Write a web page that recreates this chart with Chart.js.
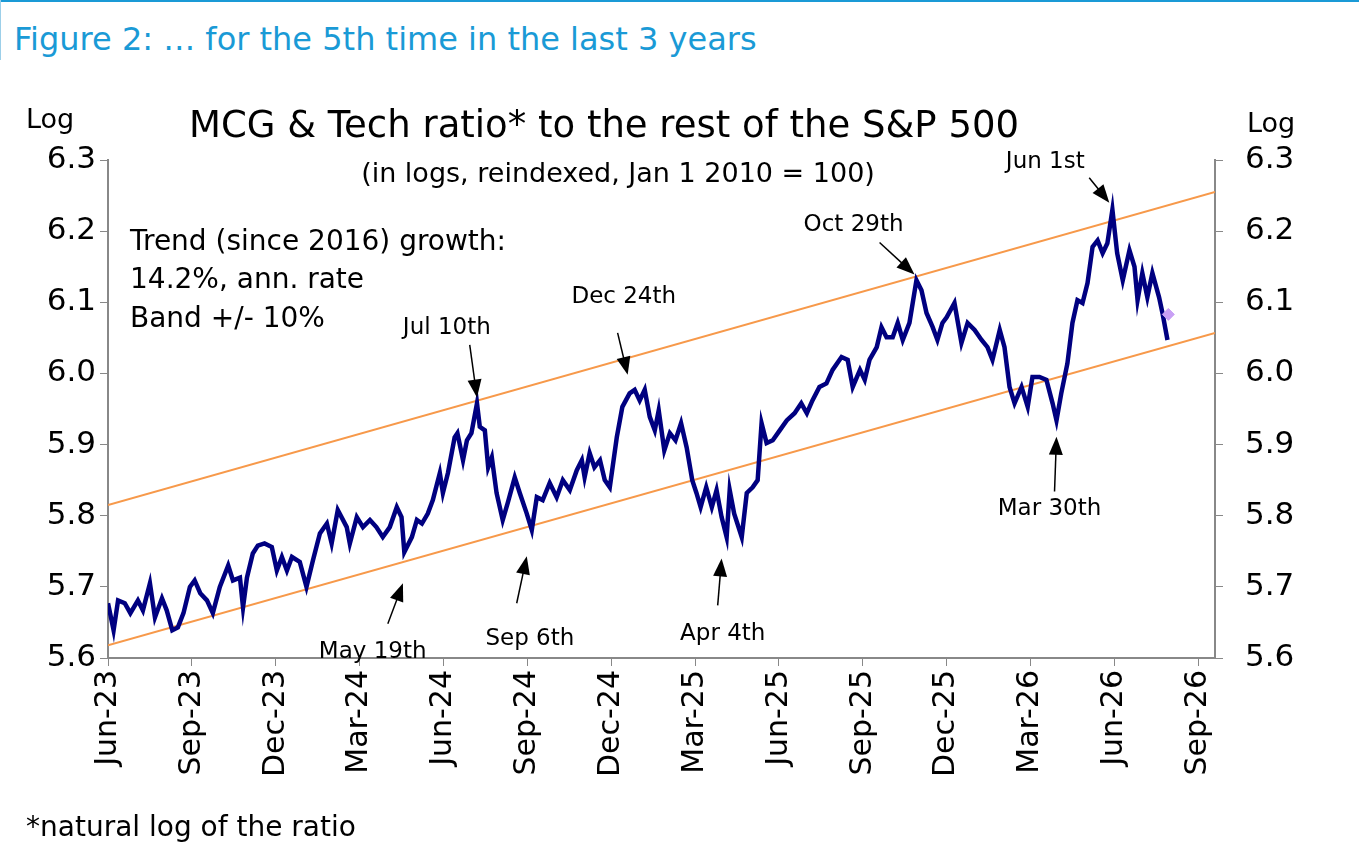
<!DOCTYPE html>
<html>
<head>
<meta charset="utf-8">
<script src="https://cdn.jsdelivr.net/npm/chart.js@4.4.0/dist/chart.umd.min.js"></script>
<style>
  body { margin: 0; background: #fff; font-family: "DejaVu Sans", sans-serif; }
  #wrap { position: relative; width: 1359px; height: 866px; }
  #topline { position: absolute; left: 0; top: 0; width: 1359px; height: 2px; background: #1a9ad6; }
  #leftline { position: absolute; left: 0; top: 0; width: 1px; height: 60px; background: #9ccfe9; }
  #fig { position: absolute; left: 14px; top: 20px; font-size: 32px; color: #1a9ad6; }
  #foot { position: absolute; left: 26px; top: 810px; font-size: 28px; color: #000; }
  canvas { position: absolute; left: 0; top: 0; }
</style>
</head>
<body>
<div id="wrap">
  <div id="topline"></div><div id="leftline"></div>
  <div id="fig">Figure 2: … for the 5th time in the last 3 years</div>
  <canvas id="chart" width="1359" height="866"></canvas>
  <div id="foot">*natural log of the ratio</div>
</div>
<script>
// x = months since Jun-23
const tickLabels = ['Jun-23','Sep-23','Dec-23','Mar-24','Jun-24','Sep-24','Dec-24','Mar-25','Jun-25','Sep-25','Dec-25','Mar-26','Jun-26','Sep-26'];
const months = [0,0.2,0.36,0.6,0.8,1.07,1.25,1.5,1.68,1.93,2.1,2.3,2.5,2.7,2.93,3.1,3.3,3.54,3.75,4.0,4.3,4.47,4.72,4.83,4.97,5.18,5.36,5.6,5.86,6.04,6.22,6.4,6.58,6.86,7.1,7.33,7.58,7.83,8.0,8.22,8.54,8.65,8.9,9.12,9.37,9.6,9.83,10.08,10.33,10.5,10.6,10.87,11.05,11.23,11.44,11.62,11.87,11.98,12.16,12.4,12.5,12.7,12.84,13.0,13.2,13.3,13.48,13.6,13.73,13.9,14.12,14.3,14.55,14.73,14.98,15.16,15.34,15.55,15.8,16.05,16.27,16.52,16.77,16.95,17.05,17.23,17.4,17.6,17.77,17.95,18.2,18.4,18.66,18.84,19.02,19.2,19.38,19.56,19.7,19.9,20.1,20.3,20.5,20.7,20.9,21.05,21.2,21.4,21.6,21.77,21.95,22.13,22.24,22.4,22.67,22.85,23.06,23.24,23.38,23.56,23.78,24.03,24.28,24.56,24.8,25.0,25.2,25.45,25.7,25.92,26.24,26.46,26.64,26.9,27.07,27.24,27.5,27.67,27.85,28.07,28.25,28.43,28.67,28.92,29.1,29.28,29.5,29.67,29.85,30.0,30.28,30.53,30.75,31.0,31.25,31.46,31.64,31.9,32.07,32.25,32.43,32.68,32.9,33.07,33.32,33.57,33.79,33.93,34.1,34.32,34.5,34.68,34.86,35.04,35.22,35.4,35.58,35.75,35.93,36.1,36.3,36.54,36.72,36.83,37.0,37.18,37.36,37.6,37.72,37.9];
const ratio = [5.677,5.639,5.681,5.677,5.663,5.681,5.667,5.705,5.657,5.684,5.667,5.639,5.643,5.663,5.700,5.709,5.691,5.681,5.663,5.700,5.730,5.709,5.713,5.671,5.713,5.747,5.758,5.761,5.756,5.723,5.742,5.723,5.742,5.735,5.700,5.737,5.775,5.789,5.761,5.808,5.784,5.761,5.798,5.784,5.794,5.784,5.770,5.784,5.812,5.798,5.749,5.770,5.794,5.789,5.803,5.822,5.860,5.832,5.860,5.910,5.916,5.878,5.906,5.916,5.958,5.925,5.920,5.868,5.882,5.832,5.794,5.818,5.854,5.832,5.803,5.780,5.826,5.822,5.846,5.826,5.850,5.836,5.864,5.878,5.854,5.888,5.868,5.878,5.850,5.840,5.910,5.953,5.972,5.977,5.962,5.977,5.939,5.920,5.948,5.892,5.916,5.906,5.930,5.896,5.850,5.832,5.812,5.840,5.812,5.836,5.798,5.770,5.836,5.803,5.770,5.832,5.840,5.850,5.930,5.902,5.906,5.920,5.934,5.944,5.958,5.944,5.962,5.981,5.986,6.005,6.023,6.019,5.981,6.005,5.991,6.019,6.037,6.065,6.051,6.051,6.071,6.047,6.071,6.131,6.117,6.085,6.065,6.047,6.071,6.079,6.099,6.043,6.071,6.061,6.047,6.037,6.019,6.061,6.037,5.981,5.958,5.981,5.953,5.995,5.995,5.991,5.958,5.934,5.972,6.014,6.071,6.103,6.099,6.127,6.178,6.187,6.169,6.183,6.230,6.169,6.131,6.173,6.150,6.103,6.141,6.107,6.141,6.107,6.085,6.047];
const latest = { x: 37.93, y: 6.083 };
const bandX = [0, 39.6];
const upperBand = [5.815, 6.255];
const lowerBand = [5.618, 6.057];

// annotations: text position and arrow (from -> tip), in data units
const notes = [
  { text: 'Jul 10th',  tx: 12.12, ty: 6.064, ax: 12.94, ay: 6.040, bx: 13.20, by: 5.966 },
  { text: 'Dec 24th',  tx: 18.45, ty: 6.108, ax: 18.23, ay: 6.057, bx: 18.59, by: 5.998 },
  { text: 'Oct 29th',  tx: 26.67, ty: 6.209, ax: 27.60, ay: 6.184, bx: 28.85, by: 6.139 },
  { text: 'Jun 1st',   tx: 33.53, ty: 6.297, ax: 35.10, ay: 6.275, bx: 35.82, by: 6.240 },
  { text: 'May 19th',  tx: 9.47,  ty: 5.609, ax: 10.01, ay: 5.648, bx: 10.55, by: 5.705 },
  { text: 'Sep 6th',   tx: 15.09, ty: 5.626, ax: 14.62, ay: 5.677, bx: 14.98, by: 5.743 },
  { text: 'Apr 4th',   tx: 21.99, ty: 5.633, ax: 21.81, ay: 5.674, bx: 21.95, by: 5.740 },
  { text: 'Mar 30th',  tx: 33.68, ty: 5.810, ax: 33.86, ay: 5.834, bx: 33.93, by: 5.911 }
];

const FONT = '"DejaVu Sans", sans-serif';

// draws titles, trend text, Log labels and arrow annotations
const decorations = {
  id: 'decorations',
  afterDatasetsDraw(chart) {
    const { ctx, scales } = chart;
    const x = scales.x, y = scales.y;
    ctx.save();
    ctx.fillStyle = '#000';
    ctx.textBaseline = 'middle';
    ctx.textAlign = 'center';
    ctx.font = '37px ' + FONT;
    ctx.fillText('MCG & Tech ratio* to the rest of the S&P 500', 604, 127);
    ctx.font = '27px ' + FONT;
    ctx.fillText('(in logs, reindexed, Jan 1 2010 = 100)', 618, 175);
    ctx.fillText('Log', 50, 121);
    ctx.fillText('Log', 1271, 125);
    ctx.font = '28px ' + FONT;
    ctx.textAlign = 'left';
    ctx.fillText('Trend (since 2016) growth:', 130, 243);
    ctx.fillText('14.2%, ann. rate', 130, 281);
    ctx.fillText('Band +/- 10%', 130, 320);

    ctx.font = '23px ' + FONT;
    ctx.textAlign = 'center';
    notes.forEach(n => {
      ctx.fillText(n.text, x.getPixelForValue(n.tx), y.getPixelForValue(n.ty));
      const x1 = x.getPixelForValue(n.ax), y1 = y.getPixelForValue(n.ay);
      const x2 = x.getPixelForValue(n.bx), y2 = y.getPixelForValue(n.by);
      const ang = Math.atan2(y2 - y1, x2 - x1);
      ctx.strokeStyle = '#000';
      ctx.lineWidth = 1.5;
      ctx.beginPath();
      ctx.moveTo(x1, y1);
      ctx.lineTo(x2 - 14 * Math.cos(ang), y2 - 14 * Math.sin(ang));
      ctx.stroke();
      ctx.beginPath();
      ctx.moveTo(x2, y2);
      ctx.lineTo(x2 - 18 * Math.cos(ang) + 7 * Math.sin(ang), y2 - 18 * Math.sin(ang) - 7 * Math.cos(ang));
      ctx.lineTo(x2 - 18 * Math.cos(ang) - 7 * Math.sin(ang), y2 - 18 * Math.sin(ang) + 7 * Math.cos(ang));
      ctx.closePath();
      ctx.fill();
    });
    ctx.restore();
  }
};

const ratioPoints = months.map((m, i) => ({ x: m, y: ratio[i] }));
const upperPoints = bandX.map((m, i) => ({ x: m, y: upperBand[i] }));
const lowerPoints = bandX.map((m, i) => ({ x: m, y: lowerBand[i] }));

const yTicks = {
  min: 5.6, max: 6.3,
  ticks: { stepSize: 0.1, color: '#000', font: { size: 31, family: FONT }, padding: 4, callback: v => v.toFixed(1) },
  grid: { drawOnChartArea: false, color: '#888', tickLength: 8 },
  border: { color: '#888', width: 2 }
};

new Chart(document.getElementById('chart'), {
  type: 'line',
  data: {
    datasets: [
      { data: upperPoints, borderColor: '#f7994a', borderWidth: 2, pointRadius: 0, order: 2 },
      { data: lowerPoints, borderColor: '#f7994a', borderWidth: 2, pointRadius: 0, order: 2 },
      { data: ratioPoints, borderColor: '#000080', borderWidth: 4.5, pointRadius: 0, tension: 0, order: 1 },
      { data: [latest], borderColor: '#c9a0f5', backgroundColor: '#c9a0f5', pointStyle: 'rectRot', pointRadius: 6, showLine: false, order: 0 }
    ]
  },
  options: {
    responsive: false,
    animation: false,
    layout: { padding: { top: 160, left: 0, right: 0, bottom: 0 } },
    plugins: { legend: { display: false }, tooltip: { enabled: false } },
    scales: {
      x: {
        type: 'linear', min: 0, max: 39.6,
        afterBuildTicks: s => { s.ticks = tickLabels.map((_, i) => ({ value: i * 3 })); },
        afterFit: s => { s.height = 208; },
        ticks: {
          color: '#000', font: { size: 30, family: FONT }, maxRotation: 90, minRotation: 90, padding: 4,
          callback: v => tickLabels[Math.round(v / 3)]
        },
        grid: { drawOnChartArea: false, color: '#888', tickLength: 8 },
        border: { color: '#888', width: 2 }
      },
      y: Object.assign({ position: 'left', afterFit: s => { s.width = 108; } }, yTicks),
      y2: Object.assign({ position: 'right', afterFit: s => { s.width = 144; } }, yTicks,
        { ticks: Object.assign({}, yTicks.ticks, { padding: 22 }) })
    }
  },
  plugins: [decorations]
});
</script>
</body>
</html>
